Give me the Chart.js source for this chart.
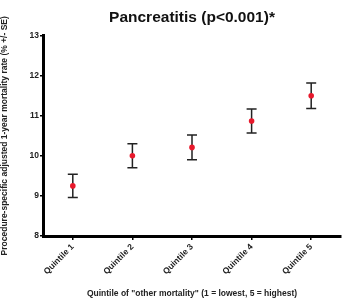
<!DOCTYPE html>
<html>
<head>
<meta charset="utf-8">
<script src="https://cdn.jsdelivr.net/npm/chart.js@4/dist/chart.umd.min.js"></script>
<style>
  html, body { margin: 0; padding: 0; background: #fff; }
  #c { display: block; }
</style>
</head>
<body>
<canvas id="c" width="345" height="302"></canvas>
<script>
const quintiles = ["Quintile 1", "Quintile 2", "Quintile 3", "Quintile 4", "Quintile 5"];
const rates = [9.25, 10.0, 10.21, 10.87, 11.5];
const se = [0.29, 0.3, 0.31, 0.3, 0.32];
const yTicks = [8, 9, 10, 11, 12, 13];

const fontFam = "'Liberation Sans', Arial, sans-serif";

// error bars, drawn under the red points
const errorBars = {
  id: 'errorBars',
  beforeDatasetsDraw(chart) {
    const ctx = chart.ctx;
    const y = chart.scales.y;
    const meta = chart.getDatasetMeta(0);
    ctx.save();
    ctx.strokeStyle = '#222';
    ctx.lineWidth = 1.5;
    meta.data.forEach((pt, i) => {
      const top = y.getPixelForValue(rates[i] + se[i]);
      const bot = y.getPixelForValue(rates[i] - se[i]);
      ctx.beginPath();
      ctx.moveTo(pt.x, top); ctx.lineTo(pt.x, bot);
      ctx.moveTo(pt.x - 5, top); ctx.lineTo(pt.x + 5, top);
      ctx.moveTo(pt.x - 5, bot); ctx.lineTo(pt.x + 5, bot);
      ctx.stroke();
    });
    ctx.restore();
  }
};

const chart = new Chart(document.getElementById('c').getContext('2d'), {
  type: 'line',
  data: {
    labels: quintiles,
    datasets: [{
      data: rates,
      showLine: false,
      pointRadius: 2.8,
      pointBackgroundColor: '#e8192c',
      pointBorderColor: '#e8192c',
      pointBorderWidth: 0
    }]
  },
  options: {
    responsive: false,
    animation: false,
    layout: { padding: { top: 0, right: 2, left: 0, bottom: 0 } },
    plugins: {
      legend: { display: false },
      tooltip: { enabled: false },
      title: {
        display: true,
        fullSize: false,
        text: 'Pancreatitis (p<0.001)*',
        color: '#111',
        font: { family: fontFam, size: 15.5, weight: 'bold' },
        padding: { top: 8, bottom: 9 }
      }
    },
    scales: {
      x: {
        offset: true,
        grid: { display: true, drawOnChartArea: false, drawTicks: true, tickLength: 4, color: '#000', lineWidth: 1.5 },
        border: { color: '#000', width: 3 },
        ticks: {
          color: '#222',
          font: { family: fontFam, size: 8.5, weight: 'bold' },
          minRotation: 45, maxRotation: 45,
          padding: 2
        },
        title: {
          display: true,
          text: 'Quintile of "other mortality" (1 = lowest, 5 = highest)',
          color: '#222',
          font: { family: fontFam, size: 8.5, weight: 'bold' },
          padding: { top: 8, bottom: 3 }
        },
        afterFit(scale) { scale.height = 66; }
      },
      y: {
        min: 8, max: 13,
        afterBuildTicks(scale) { scale.ticks = yTicks.map(v => ({ value: v })); },
        grid: { display: true, drawOnChartArea: false, drawTicks: true, tickLength: 3, color: '#000', lineWidth: 1.5 },
        border: { color: '#000', width: 3 },
        ticks: {
          color: '#222',
          font: { family: fontFam, size: 8.5, weight: 'bold' },
          padding: 1
        },
        title: {
          display: true,
          text: 'Procedure-specific adjusted 1-year mortality rate (% +/- SE)',
          color: '#222',
          font: { family: fontFam, size: 8.5, weight: 'bold' },
          padding: { top: 0, bottom: 3 }
        },
        afterFit(scale) { scale.width = 43; }
      }
    }
  },
  plugins: [errorBars]
});
</script>
</body>
</html>
